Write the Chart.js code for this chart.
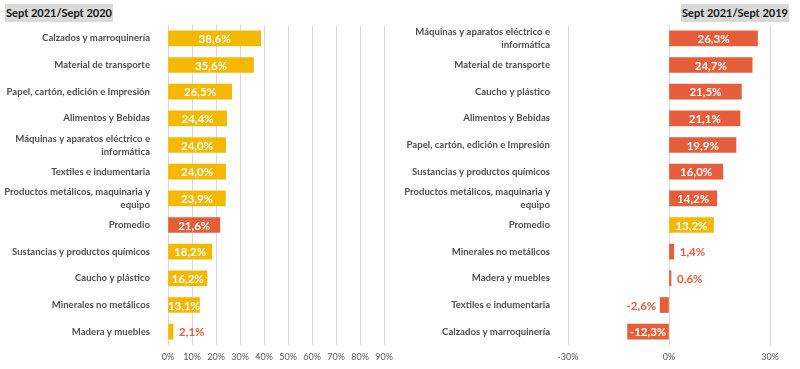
<!DOCTYPE html>
<html>
<head>
<meta charset="utf-8">
<script src="https://cdn.jsdelivr.net/npm/chart.js@4"></script>
<style>
  body { margin: 0; background: #fff; width: 800px; height: 369px; overflow: hidden; position: relative; font-family: Lato, sans-serif; }
  canvas { position: absolute; top: 0; }
  .title { position: absolute; top: 4px; height: 18px; line-height: 18px; background: #d9d9d9; font-weight: bold; font-size: 11px; color: #111; text-align: center; white-space: nowrap; }
</style>
</head>
<body>
<div class="title" style="left:5px;width:108px;">Sept 2021/Sept 2020</div>
<div class="title" style="left:681px;width:108px;">Sept 2021/Sept 2019</div>
<canvas id="ChartLeft" width="400" height="369" style="left:0"></canvas>
<canvas id="ChartRight" width="400" height="369" style="left:400px"></canvas>
<script>
// Sept 2021 vs Sept 2020
const labels2020 = [
    "Calzados y marroquinería",
    "Material de transporte",
    "Papel, cartón, edición e Impresión",
    "Alimentos y Bebidas",
    ["Máquinas y aparatos eléctrico e", "informática"],
    "Textiles e indumentaria",
    ["Productos metálicos, maquinaria y", "equipo"],
    "Promedio",
    "Sustancias y productos químicos",
    "Caucho y plástico",
    "Minerales no metálicos",
    "Madera y muebles"
];
const values2020 = [38.6, 35.6, 26.5, 24.4, 24.0, 24.0, 23.9, 21.6, 18.2, 16.2, 13.1, 2.1];

// Sept 2021 vs Sept 2019
const labels2019 = [
    ["Máquinas y aparatos eléctrico e", "informática"],
    "Material de transporte",
    "Caucho y plástico",
    "Alimentos y Bebidas",
    "Papel, cartón, edición e Impresión",
    "Sustancias y productos químicos",
    ["Productos metálicos, maquinaria y", "equipo"],
    "Promedio",
    "Minerales no metálicos",
    "Madera y muebles",
    "Textiles e indumentaria",
    "Calzados y marroquinería"
];
const values2019 = [26.3, 24.7, 21.5, 21.1, 19.9, 16.0, 14.2, 13.2, 1.4, 0.6, -2.6, -12.3];

const YELLOW = "#F4B800";
const RED = "#E65D3B";

function colorsFor(labels, main, other) {
    return labels.map(l => l === "Promedio" ? other : main);
}

function fmt(v) {
    return v.toFixed(1).replace(".", ",") + "%";
}

// draws the value labels, inside the bar if they fit, outside otherwise
const barLabels = {
    id: "barLabels",
    afterDatasetsDraw(chart) {
        const ctx = chart.ctx;
        const meta = chart.getDatasetMeta(0);
        const data = chart.data.datasets[0].data;
        ctx.save();
        ctx.font = "bold 11.5px Lato";
        ctx.textBaseline = "middle";
        meta.data.forEach((bar, i) => {
            const v = data[i];
            const txt = fmt(v);
            const w = ctx.measureText(txt).width;
            const len = Math.abs(bar.x - bar.base);
            if (len >= w - 2) {
                ctx.fillStyle = "#fff";
                ctx.textAlign = "center";
                ctx.fillText(txt, (bar.x + bar.base) / 2, bar.y + 1);
            } else {
                ctx.fillStyle = RED;
                if (v >= 0) {
                    ctx.textAlign = "left";
                    ctx.fillText(txt, bar.x + 6, bar.y + 1);
                } else {
                    ctx.textAlign = "right";
                    ctx.fillText(txt, bar.x - 4, bar.y + 1);
                }
            }
        });
        ctx.restore();
    }
};

function makeChart(el, labels, values, colors, xmin, xmax, step, padRight) {
    return new Chart(el, {
        type: "bar",
        data: {
            labels: labels,
            datasets: [{
                data: values,
                backgroundColor: colors,
                barThickness: 15
            }]
        },
        options: {
            indexAxis: "y",
            responsive: false,
            animation: false,
            layout: { padding: { top: 25, right: padRight, left: 0, bottom: 0 } },
            plugins: {
                legend: { display: false },
                tooltip: { enabled: false }
            },
            scales: {
                x: {
                    min: xmin,
                    max: xmax,
                    grid: { color: "#d9d9d9", drawTicks: false },
                    border: { display: false },
                    ticks: {
                        stepSize: step,
                        padding: 7,
                        color: "#595959",
                        font: { family: "Lato", size: 9 },
                        callback: v => v + "%"
                    },
                    afterFit: s => { s.height = 24; }
                },
                y: {
                    grid: { display: false },
                    border: { display: false },
                    ticks: {
                        autoSkip: false,
                        padding: 10,
                        color: "#505050",
                        font: { family: "Lato", size: 9.6, weight: "bold", lineHeight: 1.35 }
                    },
                    afterFit: s => { s.width = 168; }
                }
            }
        },
        plugins: [barLabels]
    });
}

makeChart(document.getElementById("ChartLeft"), labels2020, values2020,
    colorsFor(labels2020, YELLOW, RED), 0, 90, 10, 14);
makeChart(document.getElementById("ChartRight"), labels2019, values2019,
    colorsFor(labels2019, RED, YELLOW), -30, 30, 30, 30);
</script>
</body>
</html>
